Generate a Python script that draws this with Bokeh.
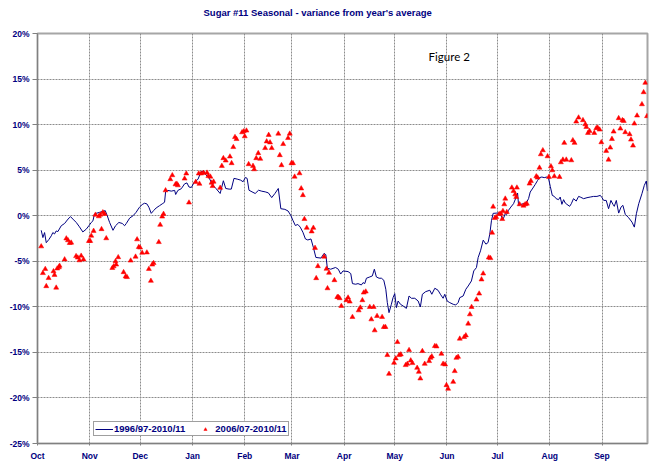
from bokeh.plotting import figure
from bokeh.models import FixedTicker, PrintfTickFormatter, Range1d, Legend, Title
from bokeh.core.properties import value
from bokeh.embed import file_html
from bokeh.resources import INLINE

# x = days since 1 Oct, y = % variance from year's average
month_names = ["Oct", "Nov", "Dec", "Jan", "Feb", "Mar", "Apr", "May", "Jun", "Jul", "Aug", "Sep"]
month_starts = [0, 31, 61, 92, 123, 151, 182, 212, 243, 273, 304, 335]

line_days = [2.2, 3.2, 4.2, 5.2, 6.8, 8.2, 9.1, 10.1, 11.1, 12.1, 14.1, 16.1, 18.1, 19.6, 21.0, 23.0, 24.9, 26.9, 28.9,
             30.5, 31.9, 32.9, 33.8, 34.8, 36.8, 38.8, 40.2, 41.4, 42.8, 44.8, 46.3, 48.3, 50.3, 51.7, 52.7, 54.7, 56.7,
             58.5, 60.5, 62.1, 63.5, 64.9, 66.1, 67.5, 68.9, 70.4, 72.4, 74.0, 75.4, 76.0, 77.4, 79.4, 81.4, 82.0, 83.3,
             85.3, 87.3, 88.7, 89.9, 91.3, 93.2, 95.2, 97.1, 98.7, 100.0, 102.0, 103.9, 105.9, 108.4, 110.3, 111.7,
             113.7, 115.0, 116.6, 118.5, 120.5, 122.0, 123.4, 124.4, 125.5, 127.3, 129.2, 131.2, 133.1, 135.1, 137.0,
             139.0, 140.9, 142.9, 144.4, 146.8, 148.7, 150.3, 151.6, 153.0, 154.5, 155.9, 157.5, 159.0, 160.4, 162.3,
             163.7, 165.2, 168.2, 170.1, 171.1, 172.0, 174.0, 176.9, 178.5, 179.9, 181.3, 184.3, 185.9, 186.9, 188.8,
             190.2, 192.2, 193.2, 194.2, 195.2, 197.2, 198.7, 199.9, 201.1, 202.7, 204.1, 205.5, 206.7, 207.6, 208.6,
             210.0, 211.0, 212.0, 213.0, 214.0, 215.4, 217.0, 218.9, 220.5, 221.9, 223.9, 225.9, 227.2, 228.4, 230.4,
             232.8, 234.0, 235.8, 237.7, 239.1, 240.7, 241.7, 243.1, 244.7, 246.7, 248.2, 249.6, 250.6, 252.6, 254.2,
             255.6, 257.5, 258.9, 260.5, 261.5, 262.9, 264.5, 266.1, 267.4, 268.4, 269.4, 270.4, 272.6, 274.2, 275.0,
             276.2, 277.6, 278.5, 279.5, 280.9, 282.5, 284.1, 284.9, 285.5, 286.9, 288.4, 290.0, 291.4, 292.4, 294.0,
             295.4, 296.8, 297.9, 299.3, 300.7, 302.3, 303.3, 304.3, 305.5, 306.7, 307.8, 309.2, 310.2, 311.2, 312.2,
             313.2, 314.2, 315.8, 316.8, 318.1, 319.7, 321.1, 322.1, 324.1, 326.1, 328.0, 330.0, 332.0, 334.0, 335.0,
             336.0, 337.5, 338.9, 340.3, 341.5, 342.3, 343.5, 344.9, 346.3, 347.4, 348.8, 350.8, 352.8, 354.2, 355.4,
             356.8, 358.7, 360.1, 361.3, 362.0]
line_values = [-1.6, -2.4, -1.85, -2.96, -2.6, -2.2, -1.85, -2.0, -1.67, -1.74, -1.1, -0.85, -0.37, -0.1, -0.37, -0.74,
               -1.22, -1.78, -1.48, -1.1, -0.74, -0.56, 0.19, 0.26, 0.37, 0.48, 0.56, 0.0, -0.74, -1.6, -1.1, -0.74,
               -0.85, -1.1, -0.85, -0.26, 0.0, 0.37, 0.93, 1.22, 1.37, 1.3, 0.93, 0.26, 0.56, 0.85, 1.1, 1.3, 1.48, 2.6,
               2.78, 2.7, 2.78, 2.33, 2.78, 2.96, 3.5, 3.6, 3.15, 3.1, 3.73, 3.99, 4.83, 4.9, 4.46, 4.1, 3.36, 2.99,
               2.44, 3.84, 2.99, 2.92, 2.92, 4.1, 4.02, 3.91, 3.73, 4.2, 4.1, 2.8, 2.62, 2.44, 2.8, 2.69, 2.62, 2.51,
               1.99, 2.44, 2.99, 0.77, 0.7, 0.52, 0.04, -0.52, -1.07, -0.96, -1.25, -1.81, -2.55, -2.66, -2.55, -3.47,
               -4.58, -4.65, -4.13, -4.28, -5.76, -5.87, -5.68, -5.87, -6.4, -6.06, -6.13, -6.35, -7.45, -7.52, -7.45,
               -7.6, -7.34, -7.45, -6.86, -6.72, -6.61, -5.87, -6.72, -6.86, -6.86, -7.08, -8.07, -9.54, -10.64, -9.72,
               -8.99, -8.55, -10.09, -9.36, -9.72, -9.91, -10.17, -8.81, -9.06, -9.06, -9.36, -10.02, -8.62, -8.33,
               -8.18, -8.62, -7.96, -8.18, -8.62, -9.06, -8.62, -9.36, -9.54, -9.72, -9.8, -9.54, -8.99, -8.81, -8.07,
               -7.71, -7.16, -6.06, -5.69, -4.59, -3.85, -2.68, -3.12, -2.94, -2.02, -0.55, 0.26, 0.29, 0.29, 0.04,
               -0.44, 0.22, 0.15, 0.59, 0.95, 1.32, 2.05, 2.49, 1.14, 1.25, 1.32, 1.39, 1.87, 2.6, 3.04, 3.44, 3.88,
               4.18, 4.25, 4.18, 4.25, 4.07, 3.22, 2.23, 2.12, 1.87, 1.76, 2.05, 1.25, 1.76, 1.39, 1.25, 1.03, 1.32,
               1.87, 1.61, 2.12, 2.05, 1.87, 1.98, 2.05, 2.12, 2.12, 2.23, 1.98, 1.68, 1.68, 0.77, 1.68, 1.25, 1.03,
               1.68, 0.29, 0.95, 1.14, 0.15, -0.22, -0.7, -1.25, 0.22, 1.32, 2.42, 3.33, 3.81, 2.71]

pt_days = [2.2, 3.2, 4.6, 5.2, 6.6, 9.5, 10.1, 11.1, 11.7, 12.7, 13.1, 16.1, 17.1, 18.1, 19.1, 20.0, 22.9, 23.9, 24.9,
           25.9, 27.3, 30.5, 31.3, 31.9, 33.3, 34.4, 36.4, 37.2, 38.0, 38.8, 39.8, 40.8, 44.4, 45.2, 46.3, 46.7, 47.9,
           51.1, 52.3, 53.1, 55.3, 58.2, 59.1, 60.1, 60.9, 62.1, 64.9, 66.1, 67.3, 68.1, 68.9, 72.0, 72.8, 74.0, 74.8,
           76.0, 78.8, 80.0, 81.9, 82.7, 83.3, 87.3, 88.3, 89.9, 93.9, 95.7, 96.1, 97.1, 98.5, 100.6, 101.4, 102.6,
           103.3, 103.9, 104.5, 108.4, 109.4, 110.3, 111.7, 114.2, 115.2, 116.2, 117.2, 118.1, 121.4, 122.4, 123.0,
           124.0, 125.3, 127.9, 128.6, 129.8, 131.0, 132.2, 135.1, 136.0, 137.2, 138.0, 139.0, 142.9, 143.8, 144.8,
           145.8, 148.7, 149.7, 150.7, 151.6, 152.6, 155.5, 156.5, 157.5, 158.4, 159.8, 162.7, 163.7, 164.7, 165.4,
           166.4, 170.1, 171.5, 172.1, 173.0, 176.2, 177.9, 178.5, 179.3, 180.3, 183.3, 184.3, 185.3, 186.9, 190.6,
           191.6, 192.8, 193.6, 194.8, 197.2, 198.1, 199.5, 200.1, 201.5, 204.5, 205.5, 206.5, 207.6, 208.6, 211.6,
           212.6, 213.6, 214.6, 215.6, 218.5, 219.5, 220.5, 221.5, 222.5, 225.3, 226.3, 227.2, 228.4, 229.8, 232.4,
           233.2, 234.0, 235.8, 236.8, 239.7, 240.7, 241.9, 242.7, 243.7, 246.7, 247.6, 248.6, 249.6, 250.6, 253.2,
           254.2, 255.6, 256.6, 257.6, 260.5, 262.1, 263.5, 264.5, 267.8, 268.8, 269.8, 270.4, 271.4, 272.2, 274.0,
           275.0, 275.8, 276.2, 277.0, 277.6, 278.5, 281.5, 282.5, 283.5, 284.1, 284.5, 286.1, 288.4, 289.4, 290.4,
           292.0, 292.8, 296.0, 296.8, 297.9, 298.7, 299.9, 302.7, 303.5, 304.7, 305.5, 306.7, 309.8, 310.6, 311.8,
           312.6, 313.8, 316.8, 317.7, 318.7, 319.7, 321.1, 323.7, 325.1, 325.7, 326.7, 327.6, 330.4, 331.6, 332.4,
           333.6, 334.6, 337.5, 338.9, 339.9, 340.9, 341.9, 344.9, 345.9, 347.1, 347.9, 348.8, 351.4, 352.2, 353.4,
           354.2, 355.8, 358.7, 359.7, 360.7, 361.7]
pt_values = [-3.37, -6.3, -5.85, -7.74, -6.85, -6.1, -6.5, -7.9, -5.8, -5.67, -5.5, -4.8, -2.5, -2.7, -3.0, -2.96,
             -4.44, -4.6, -4.9, -4.4, -4.8, -2.78, -2.78, -2.2, -1.67, 0.1, -0.07, 0.1, -1.48, 0.37, 0.19, -2.48, -5.74,
             -5.56, -5.0, -5.37, -4.56, -6.2, -6.67, -6.74, -4.93, -4.5, -2.6, -3.44, -3.5, -4.07, -4.04, -5.85, -7.15,
             -5.37, -5.2, -2.9, -1.0, -0.1, 0.19, 2.78, 4.0, 4.44, 3.44, 3.5, 3.33, 4.07, 4.63, 1.44, 3.7, 4.63, 3.5,
             4.63, 4.7, 4.72, 4.35, 4.28, 3.62, 3.25, 3.73, 3.06, 5.46, 6.31, 6.05, 6.49, 5.76, 7.53, 8.63, 8.41, 9.15,
             9.26, 8.71, 9.34, 5.65, 5.46, 5.09, 6.31, 6.86, 6.24, 7.42, 8.15, 8.86, 8.04, 7.42, 9.0, 6.64, 5.54, 7.86,
             8.52, 9.0, 5.76, 5.76, 4.28, 4.65, 2.99, 2.25, -0.37, -1.33, -1.73, -1.33, -3.54, -6.86, -5.54, -4.5,
             -5.83, -7.97, -6.27, -7.08, -8.93, -8.93, -9.06, -9.91, -9.28, -8.99, -9.43, -11.12, -10.39, -10.09, -9.28,
             -8.44, -8.33, -10.02, -11.38, -10.02, -12.59, -11.01, -11.12, -12.22, -12.22, -15.3, -17.36, -16.15,
             -15.67, -13.87, -15.3, -15.23, -16.4, -16.26, -14.75, -15.89, -16.18, -16.7, -17.14, -17.87, -14.86,
             -16.26, -15.96, -15.6, -15.45, -14.31, -14.35, -15.16, -16.26, -16.33, -18.6, -19.0, -18.24, -17.06,
             -15.6, -15.49, -13.5, -13.32, -13.14, -11.85, -10.83, -10.02, -9.21, -8.55, -7.0, -6.35, -4.59, -4.66,
             -1.87, 0.99, -0.26, -0.15, 0.18, 0.22, -0.37, 0.51, 1.25, 1.87, 0.4, 3.08, 2.71, 2.34, 2.05, 3.08, 1.25,
             1.1, 1.25, 1.32, 3.52, 3.81, 4.32, 4.18, 5.27, 6.74, 7.18, 6.52, 4.25, 5.42, 4.98, 4.32, 4.25, 5.86, 6.15,
             7.99, 6.15, 6.08, 8.28, 7.99, 10.33, 10.77, 10.48, 10.04, 9.74, 9.08, 9.3, 9.08, 9.6, 9.67, 9.45, 8.06,
             7.11, 6.15, 7.47, 8.42, 9.23, 10.7, 9.56, 10.48, 10.4, 9.16, 8.94, 8.35, 7.69, 10.11, 10.99, 12.23, 13.55,
             14.58, 10.92]

y_ticks = [-25, -20, -15, -10, -5, 0, 5, 10, 15, 20]
title_text = "Sugar #11 Seasonal - variance from year's average"
series_names = ["1996/97-2010/11", "2006/07-2010/11"]
note_text = "Figure 2"

NAVY = "#000080"
FONT = "Liberation Sans"

p = figure(width=667, height=470, output_backend="svg", toolbar_location=None,
           x_range=Range1d(0, 362), y_range=Range1d(-25, 20),
           min_border_left=37, min_border_right=20, min_border_top=33, min_border_bottom=27)
p.background_fill_color = "white"
p.border_fill_color = "white"
p.outline_line_color = "#a6a6a6"
p.outline_line_width = 2

p.title.text = title_text
p.title.align = "left"
p.title.offset = 166
p.title.text_font = FONT
p.title.text_font_size = "9.5px"
p.title.text_font_style = "bold"
p.title.text_color = NAVY
p.title.standoff = 0
p.title.vertical_align = "bottom"
# blank spacer between the frame and the title
p.add_layout(Title(text=" ", text_font_size="2px", standoff=12), "above")

for ax in (p.xaxis[0], p.yaxis[0]):
    ax.axis_line_color = "#808080"
    ax.major_tick_line_color = "#808080"
    ax.minor_tick_line_color = None
    ax.major_tick_in = 0
    ax.major_label_text_font = FONT
    ax.major_label_text_font_style = "bold"
    ax.major_label_text_font_size = "8.5px"
    ax.major_label_text_color = NAVY
p.yaxis.major_tick_out = 5
p.yaxis.major_label_standoff = 3
p.xaxis.major_tick_out = 2
p.xaxis.major_label_standoff = 5

p.xaxis.ticker = FixedTicker(ticks=month_starts)
p.xaxis.major_label_overrides = {m: n for m, n in zip(month_starts, month_names)}
p.yaxis.ticker = FixedTicker(ticks=y_ticks)
p.yaxis.formatter = PrintfTickFormatter(format="%d%%")

for g in (p.xgrid[0], p.ygrid[0]):
    g.grid_line_color = "#8c8c8c"
    g.grid_line_dash = "2 1"
    g.grid_line_width = 1

r_line = p.line(line_days, line_values, line_color=NAVY, line_width=1)
r_pts = p.scatter(pt_days, pt_values, marker="triangle", size=5, fill_color="#ff0000",
                  line_color="#ff0000", line_width=0.5)

p.text(x=[232.1], y=[17.5], text=[note_text], text_font=value("Lato"), text_font_size="11.5px",
       text_color="black", text_align="left", text_baseline="middle")

legend = Legend(items=[(series_names[0], [r_line]), (series_names[1], [r_pts])],
                orientation="horizontal", location=(56, 7))
legend.label_text_font = FONT
legend.label_text_font_style = "bold"
legend.label_text_font_size = "9.5px"
legend.label_text_color = NAVY
legend.border_line_color = "#404040"
legend.border_line_width = 1
legend.background_fill_color = "white"
legend.background_fill_alpha = 1
legend.glyph_width = 18
legend.glyph_height = 8
legend.label_standoff = 1
legend.spacing = 11
legend.padding = 1
legend.margin = 0
legend.label_height = 8
p.add_layout(legend, "center")

open("out.html", "w").write(file_html(p, INLINE))
